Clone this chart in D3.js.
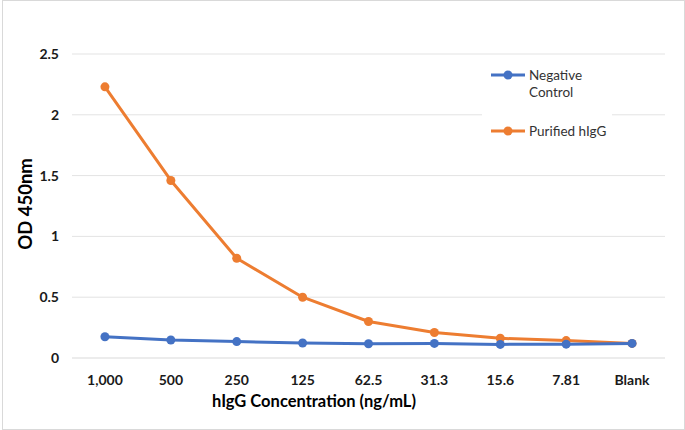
<!DOCTYPE html>
<html>
<head>
<meta charset="utf-8">
<script src="https://cdn.jsdelivr.net/npm/d3@7"></script>
<style>
  body { margin: 0; background: #fff; }
  text { font-family: Lato, "Open Sans", sans-serif; }
</style>
</head>
<body>
<div id="chart"></div>
<script>
// concentration labels along the x axis
const categories = ["1,000", "500", "250", "125", "62.5", "31.3", "15.6", "7.81", "Blank"];
// OD 450nm readings
const negativeControl = [0.175, 0.148, 0.135, 0.123, 0.117, 0.12, 0.112, 0.114, 0.12];
const purifiedHigG = [2.23, 1.46, 0.82, 0.50, 0.30, 0.21, 0.162, 0.143, 0.12];
const yTicks = [0, 0.5, 1, 1.5, 2, 2.5];

const series = [
  { name: ["Negative", "Control"], values: negativeControl, color: "#4472c4" },
  { name: ["Purified hIgG"], values: purifiedHigG, color: "#ed7d31" }
];

const width = 685, height = 430;
const margin = { left: 72, right: 20, top: 54, bottom: 72 };

const svg = d3.select("#chart").append("svg")
  .attr("width", width)
  .attr("height", height);

// outer frame
svg.append("rect")
  .attr("x", 2.5).attr("y", 0.5)
  .attr("width", width - 3).attr("height", height - 1)
  .attr("fill", "#fff")
  .attr("stroke", "#d9d9d9");

const x = d3.scaleBand()
  .domain(categories)
  .range([margin.left, width - margin.right]);

const y = d3.scaleLinear()
  .domain([0, 2.5])
  .range([height - margin.bottom, margin.top]);

// gridlines
svg.append("g")
  .selectAll("line")
  .data(yTicks)
  .join("line")
  .attr("x1", margin.left)
  .attr("x2", width - margin.right)
  .attr("y1", d => y(d))
  .attr("y2", d => y(d))
  .attr("stroke", d => d === 0 ? "#d9d9d9" : "#e3e3e3")
  .attr("stroke-width", 1);

// y tick labels
svg.append("g")
  .selectAll("text")
  .data(yTicks)
  .join("text")
  .attr("x", 59)
  .attr("y", d => y(d))
  .attr("dy", "0.35em")
  .attr("text-anchor", "end")
  .attr("font-size", 14)
  .attr("font-weight", "bold")
  .attr("fill", "#1a1a1a")
  .text(d => d);

// x tick labels
svg.append("g")
  .selectAll("text")
  .data(categories)
  .join("text")
  .attr("x", d => x(d) + x.bandwidth() / 2)
  .attr("y", 385)
  .attr("text-anchor", "middle")
  .attr("font-size", 14)
  .attr("font-weight", "bold")
  .attr("fill", "#1a1a1a")
  .text(d => d);

// axis titles
svg.append("text")
  .attr("x", 314)
  .attr("y", 407)
  .attr("text-anchor", "middle")
  .attr("font-size", 16.5)
  .attr("font-weight", "bold")
  .attr("fill", "#000")
  .text("hIgG Concentration (ng/mL)");

svg.append("text")
  .attr("transform", `translate(32,204) rotate(-90)`)
  .attr("text-anchor", "middle")
  .attr("font-size", 18.5)
  .attr("font-weight", "bold")
  .attr("fill", "#000")
  .text("OD 450nm");

// legend background hides gridlines behind it
const legend = svg.append("g");
legend.append("rect")
  .attr("x", 482).attr("y", 62)
  .attr("width", 130).attr("height", 90)
  .attr("fill", "#fff");

const line = d3.line()
  .x((d, i) => x(categories[i]) + x.bandwidth() / 2)
  .y(d => y(d));

// negative control drawn last so it sits on top at the right end
const drawOrder = [series[1], series[0]];
drawOrder.forEach(s => {
  const g = svg.append("g");
  g.append("path")
    .datum(s.values)
    .attr("d", line)
    .attr("fill", "none")
    .attr("stroke", s.color)
    .attr("stroke-width", 3)
    .attr("stroke-linejoin", "round");
  g.selectAll("circle")
    .data(s.values)
    .join("circle")
    .attr("cx", (d, i) => x(categories[i]) + x.bandwidth() / 2)
    .attr("cy", d => y(d))
    .attr("r", 4.5)
    .attr("fill", s.color);
});

// legend entries
const legendY = [75, 131];
series.forEach((s, i) => {
  const ly = legendY[i];
  legend.append("line")
    .attr("x1", 491).attr("x2", 525)
    .attr("y1", ly).attr("y2", ly)
    .attr("stroke", s.color)
    .attr("stroke-width", 3);
  legend.append("circle")
    .attr("cx", 508).attr("cy", ly)
    .attr("r", 4.5)
    .attr("fill", s.color);
  legend.append("text")
    .attr("x", 529)
    .attr("y", ly)
    .attr("font-size", 13.5)
    .attr("fill", "#333")
    .selectAll("tspan")
    .data(s.name)
    .join("tspan")
    .attr("x", 529)
    .attr("dy", (d, j) => j === 0 ? "0.35em" : "1.3em")
    .text(d => d);
});
</script>
</body>
</html>
